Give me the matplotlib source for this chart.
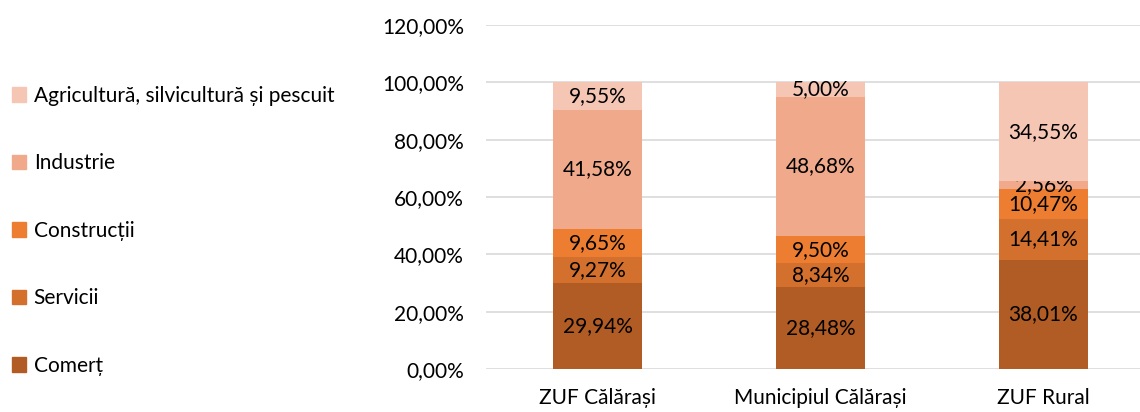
import matplotlib
matplotlib.use("Agg")
import matplotlib.pyplot as plt
from matplotlib.patches import Patch

plt.rcParams['font.family'] = ['Lato', 'DejaVu Sans']

categorii = ['ZUF Călărași', 'Municipiul Călărași', 'ZUF Rural']
sectoare = ['Comerț', 'Servicii', 'Construcții', 'Industrie',
            'Agricultură, silvicultură și pescuit']
culori = ['#B15C24', '#D4702E', '#ED7D31', '#F0A98A', '#F6C6B5']

comert = [29.94, 28.48, 38.01]
servicii = [9.27, 8.34, 14.41]
constructii = [9.65, 9.50, 10.47]
industrie = [41.58, 48.68, 2.56]
agricultura = [9.55, 5.00, 34.55]

serii = [comert, servicii, constructii, industrie, agricultura]

fig = plt.figure(figsize=(11.4, 4.12), dpi=100)
ax = fig.add_axes([486 / 1140, 1 - 369 / 412, 1 - 486 / 1140, (369 - 25) / 412])

x = range(len(categorii))
baza = [0, 0, 0]
for valori, culoare in zip(serii, culori):
    bare = ax.bar(x, valori, 0.4, bottom=baza, color=culoare, zorder=3)
    etichete = [f"{v:.2f}%".replace('.', ',') for v in valori]
    ax.bar_label(bare, labels=etichete, label_type='center', fontsize=15, color='black')
    baza = [b + v for b, v in zip(baza, valori)]

ax.set_ylim(0, 120)
ax.set_xlim(-0.5, 2.433)
ax.set_yticks(range(0, 121, 20))
ax.set_yticklabels([f"{t},00%" for t in range(0, 121, 20)], fontsize=15)
ax.set_xticks(list(x))
ax.set_xticklabels(categorii, fontsize=15)
ax.tick_params(length=0, axis='y', pad=16)
ax.tick_params(length=0, axis='x', pad=14)
ax.grid(axis='y', color='#D9D9D9', linewidth=1.2, zorder=0)
for s in ax.spines.values():
    s.set_visible(False)

manere = [Patch(color=c) for c in culori][::-1]
fig.legend(manere, sectoare[::-1], loc='upper left', bbox_to_anchor=(0.003, 0.812),
           frameon=False, fontsize=15, labelspacing=2.28, handlelength=0.7,
           handleheight=0.7, handletextpad=0.35, borderaxespad=0)

fig.savefig('out.png', dpi=100)
